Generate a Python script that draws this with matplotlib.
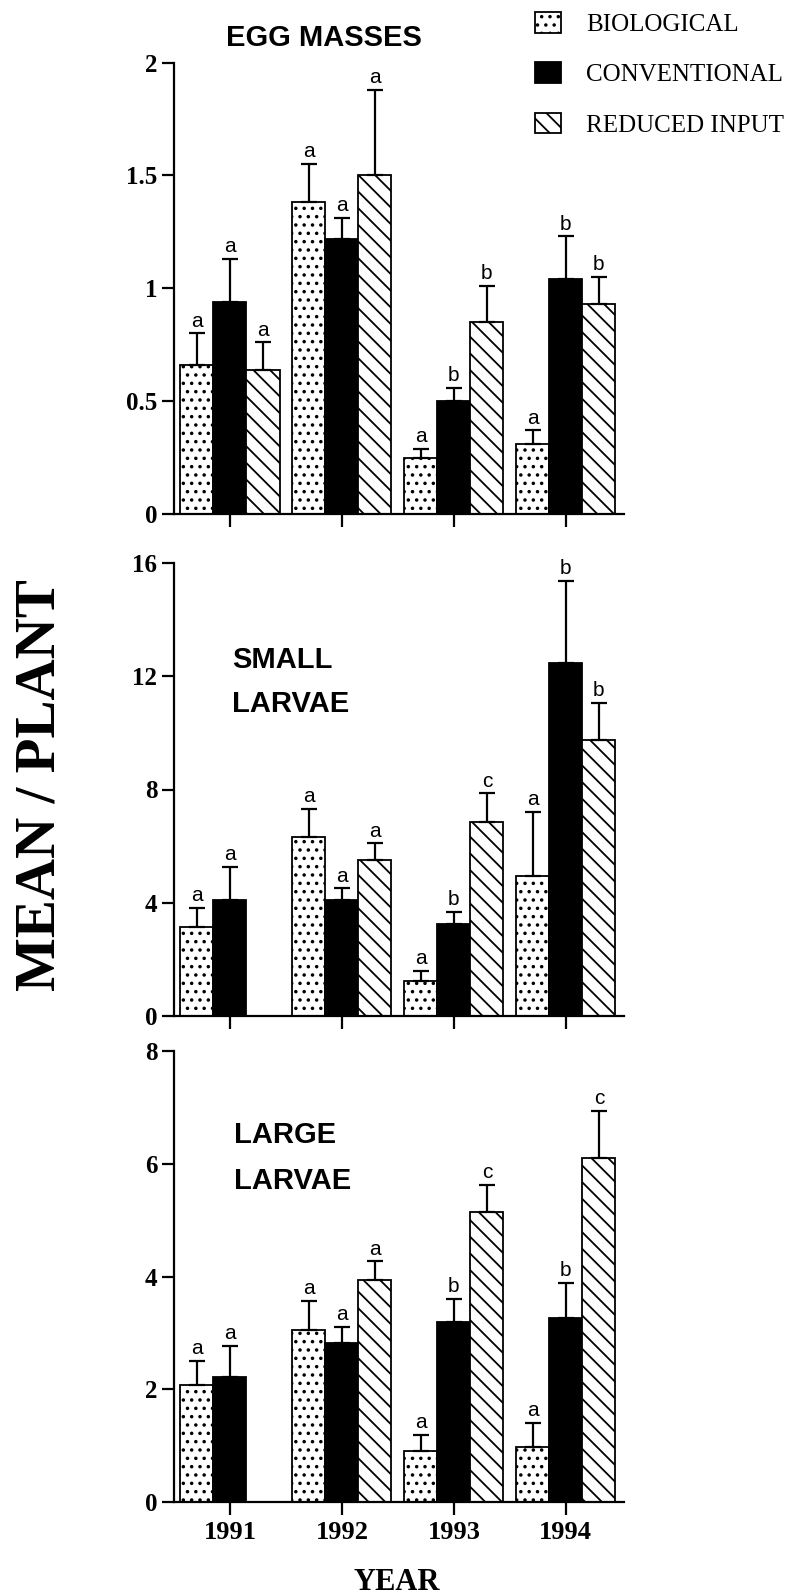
import matplotlib
matplotlib.use("Agg")
import matplotlib.pyplot as plt
import numpy as np

# data (mean per plant, upper error bar length)
years = ["1991", "1992", "1993", "1994"]
treatments = ["BIOLOGICAL", "CONVENTIONAL", "REDUCED INPUT"]

egg_mean = {
    "BIOLOGICAL": [0.66, 1.38, 0.25, 0.31],
    "CONVENTIONAL": [0.94, 1.22, 0.50, 1.04],
    "REDUCED INPUT": [0.64, 1.50, 0.85, 0.93],
}
egg_err = {
    "BIOLOGICAL": [0.14, 0.17, 0.04, 0.06],
    "CONVENTIONAL": [0.19, 0.09, 0.06, 0.19],
    "REDUCED INPUT": [0.12, 0.38, 0.16, 0.12],
}
egg_letters = {
    "BIOLOGICAL": ["a", "a", "a", "a"],
    "CONVENTIONAL": ["a", "a", "b", "b"],
    "REDUCED INPUT": ["a", "a", "b", "b"],
}

small_mean = {
    "BIOLOGICAL": [3.15, 6.33, 1.25, 4.96],
    "CONVENTIONAL": [4.10, 4.10, 3.25, 12.46],
    "REDUCED INPUT": [np.nan, 5.50, 6.85, 9.76],
}
small_err = {
    "BIOLOGICAL": [0.66, 0.99, 0.35, 2.24],
    "CONVENTIONAL": [1.17, 0.41, 0.42, 2.90],
    "REDUCED INPUT": [np.nan, 0.60, 1.01, 1.29],
}
small_letters = {
    "BIOLOGICAL": ["a", "a", "a", "a"],
    "CONVENTIONAL": ["a", "a", "b", "b"],
    "REDUCED INPUT": ["", "a", "c", "b"],
}

large_mean = {
    "BIOLOGICAL": [2.08, 3.05, 0.90, 0.98],
    "CONVENTIONAL": [2.21, 2.82, 3.19, 3.26],
    "REDUCED INPUT": [np.nan, 3.94, 5.15, 6.10],
}
large_err = {
    "BIOLOGICAL": [0.42, 0.52, 0.29, 0.43],
    "CONVENTIONAL": [0.56, 0.29, 0.41, 0.62],
    "REDUCED INPUT": [np.nan, 0.33, 0.47, 0.84],
}
large_letters = {
    "BIOLOGICAL": ["a", "a", "a", "a"],
    "CONVENTIONAL": ["a", "a", "b", "b"],
    "REDUCED INPUT": ["", "a", "c", "c"],
}

egg_ticks = [0, 0.5, 1, 1.5, 2]
egg_ticklabels = ["0", "0.5", "1", "1.5", "2"]
small_ticks = [0, 4, 8, 12, 16]
large_ticks = [0, 2, 4, 6, 8]

SERIF = "Liberation Serif"
SANS = "Liberation Sans"
W, H = 803, 1595

plt.rcParams["hatch.linewidth"] = 1.3
plt.rcParams["hatch.color"] = "black"

styles = {
    "BIOLOGICAL": dict(facecolor="white", hatch=".."),
    "CONVENTIONAL": dict(facecolor="black", hatch=None),
    "REDUCED INPUT": dict(facecolor="white", hatch="\\\\"),
}


def fx(px):
    return px / W


def fy(py):
    return 1 - py / H


def panel(fig, top, bottom, means, errs, letters, ticks, ticklabels, show_years):
    ax = fig.add_axes([fx(174), fy(bottom), fx(624) - fx(174), (bottom - top) / H])
    x = np.arange(len(years))
    width = 0.295
    handles = []
    for i, t in enumerate(treatments):
        pos = x + (i - 1) * width
        m = np.array(means[t], dtype=float)
        e = np.array(errs[t], dtype=float)
        b = ax.bar(pos, m, width, edgecolor="black", linewidth=1.3,
                   zorder=2, **styles[t])
        handles.append(b)
        ax.errorbar(pos, m, yerr=[np.zeros_like(e), e], fmt="none",
                    ecolor="black", elinewidth=1.6, capsize=5.5,
                    capthick=1.6, zorder=3)
        for xi, mi, ei, lab in zip(pos, m, e, letters[t]):
            if lab and not np.isnan(mi):
                ax.annotate(lab, (xi, mi + ei), xytext=(0, 2),
                            textcoords="offset points", ha="center",
                            va="bottom", fontsize=15, family=SANS,
                            clip_on=False)
    ax.set_xlim(-0.5, 3.52)
    ax.set_ylim(ticks[0], ticks[-1])
    ax.set_yticks(ticks)
    ax.set_yticklabels(ticklabels, family=SERIF, fontweight="bold", fontsize=18)
    ax.set_xticks(x)
    if show_years:
        ax.set_xticklabels(years, family=SERIF, fontweight="bold", fontsize=19)
    else:
        ax.set_xticklabels([])
    for s in ["top", "right"]:
        ax.spines[s].set_visible(False)
    for s in ["left", "bottom"]:
        ax.spines[s].set_linewidth(1.6)
    ax.tick_params(direction="out", length=9, width=1.6, pad=3)
    ax.tick_params(axis="x", pad=5)
    return ax, handles


fig = plt.figure(figsize=(W / 100, H / 100), dpi=100)

ax1, handles = panel(fig, 62.5, 514, egg_mean, egg_err, egg_letters,
                     egg_ticks, egg_ticklabels, False)
ax2, _ = panel(fig, 563, 1016, small_mean, small_err, small_letters,
               small_ticks, [str(v) for v in small_ticks], False)
ax3, _ = panel(fig, 1051, 1502, large_mean, large_err, large_letters,
               large_ticks, [str(v) for v in large_ticks], True)

# panel titles
fig.text(fx(324), fy(46), "EGG MASSES", ha="center", va="baseline",
         fontsize=21, fontweight="bold", family=SANS)
fig.text(fx(232), fy(668), "SMALL", ha="left", va="baseline",
         fontsize=21, fontweight="bold", family=SANS)
fig.text(fx(232), fy(712), "LARVAE", ha="left", va="baseline",
         fontsize=21, fontweight="bold", family=SANS)
fig.text(fx(234), fy(1143), "LARGE", ha="left", va="baseline",
         fontsize=21, fontweight="bold", family=SANS)
fig.text(fx(234), fy(1189), "LARVAE", ha="left", va="baseline",
         fontsize=21, fontweight="bold", family=SANS)

fig.text(fx(397), fy(1590), "YEAR", ha="center", va="baseline",
         fontsize=22, fontweight="bold", family=SERIF)
fig.text(fx(41), fy(785), "MEAN / PLANT", ha="center", va="center",
         rotation=90, fontsize=41, fontweight="bold", family=SERIF)

fig.legend(handles, treatments, loc="upper left",
           bbox_to_anchor=(fx(535), fy(12)), frameon=False,
           borderpad=0, borderaxespad=0, handlelength=1.05,
           handleheight=0.9, handletextpad=1.0, labelspacing=1.05,
           prop={"family": SERIF, "size": 18})

fig.savefig("out.png", dpi=100, facecolor="white")
